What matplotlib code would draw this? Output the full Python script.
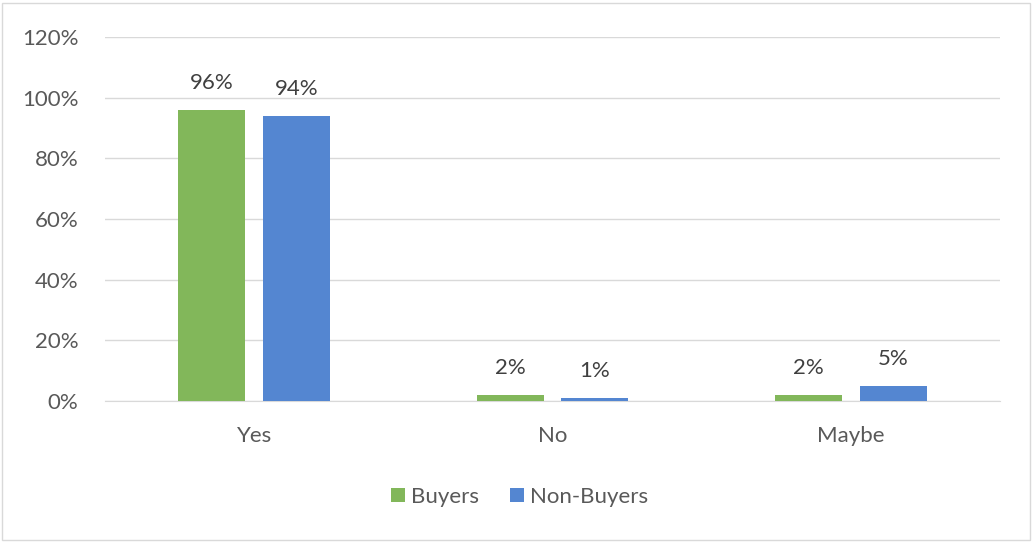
import matplotlib
matplotlib.use("Agg")
import matplotlib.pyplot as plt
import numpy as np
from matplotlib.patches import Rectangle

categories = ["Yes", "No", "Maybe"]
buyers = [96, 2, 2]
non_buyers = [94, 1, 5]
series_names = ["Buyers", "Non-Buyers"]
yticks = [0, 20, 40, 60, 80, 100, 120]

plt.rcParams['font.family'] = ['Lato', 'DejaVu Sans']

fig = plt.figure(figsize=(10.34, 5.43), dpi=100)
ax = fig.add_axes([105/1034, (543-401)/543, (1000-105)/1034, (401-37)/543])

green = "#82b75a"
blue = "#5486d1"
x = np.arange(len(categories))
w = 0.225
off = 0.142
b1 = ax.bar(x - off, buyers, w, color=green, label=series_names[0], zorder=3)
b2 = ax.bar(x + off, non_buyers, w, color=blue, label=series_names[1], zorder=3)

for bars, vals in ((b1, buyers), (b2, non_buyers)):
    for r, v in zip(bars, vals):
        ax.text(r.get_x() + r.get_width()/2, v + 5.5, f"{v}%", ha="center", va="bottom",
                fontsize=16, color="#404040")

ax.set_xlim(-0.5, 2.5)
ax.set_ylim(0, 120)
ax.set_yticks(yticks)
ax.set_yticklabels([f"{t}%" for t in yticks])
ax.set_xticks(x)
ax.set_xticklabels(categories)
ax.tick_params(axis="both", length=0, labelsize=16, colors="#595959")
ax.tick_params(axis="y", pad=19)
ax.tick_params(axis="x", pad=18)
ax.grid(axis="y", color="#d9d9d9", linewidth=1, zorder=0)
for s in ["top", "right", "left"]:
    ax.spines[s].set_visible(False)
ax.spines["bottom"].set_color("#d9d9d9")

leg = fig.legend(loc="center", bbox_to_anchor=(520/1034, 1 - 497/543), ncol=2, frameon=False,
                 fontsize=16, handlelength=0.6, handleheight=0.6, handletextpad=0.3,
                 columnspacing=1.4)
for t in leg.get_texts():
    t.set_color("#595959")

fig.patches.append(Rectangle((2/1034, 3/543), 1028/1034, 537/543, transform=fig.transFigure,
                             fill=False, edgecolor="#d9d9d9", linewidth=1))

fig.savefig("out.png", dpi=100)
